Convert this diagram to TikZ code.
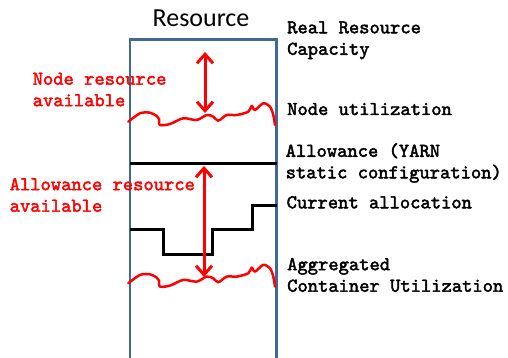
\documentclass[tikz,border=0pt]{standalone}
\usepackage{fontspec}
\usetikzlibrary{arrows.meta}
\newfontfamily\titlefont{Carlito}
\newfontfamily\lblfont{lmmono10-regular.otf}[FakeBold=2.2]
\definecolor{boxblue}{RGB}{65,105,150}

\begin{document}
\begin{tikzpicture}[x=1pt,y=-1pt,
  lbl/.style={anchor=base west, inner sep=0, align=left, font=\lblfont\fontsize{19.6}{21.5}\selectfont},
  redlbl/.style={lbl, text=red},
  wave/.style={red, line width=2.5, line join=round, line cap=round},
  bar/.style={red, line width=3, {Straight Barb[length=9pt,width=16pt]}-{Straight Barb[length=9pt,width=16pt]}}]
\useasboundingbox (0,0) rectangle (508,358);
% the resource column
\draw[boxblue, line width=2.2] (130,358) -- (130,39.5) -- (276.5,39.5) -- (276.5,358);
\node (title) at (201,26.7) [anchor=base, inner sep=0, font=\titlefont\fontsize{26}{30}\selectfont] {Resource};
% utilization curves (node, containers)
\foreach \dy in {0,161.6} {
 \draw[wave, yshift=-\dy pt] plot[smooth, tension=.5] coordinates {(128.3,121.7) (140,113.3) (150,112.7) (156.7,116) (159,119) (160,125) (170,124) (183.3,118.3) (196.7,120) (206.7,115) (213.3,116.7) (218.3,120.7) (226.7,115) (236.7,115) (248.3,111.7) (251.7,106) (255,110) (263.3,103.3) (270,106.7) (273.3,115) (275,125)};
}
% allowance and current allocation
\draw[black, line width=3] (130,164) -- (276.5,164);
\draw[black, line width=3] (130,229) -- (163,229) -- (163,254) -- (212,254) -- (212,229) -- (252,229) -- (252,205) -- (276.5,205);
% available resource
\coordinate (captop) at (205,52);
\coordinate (utilnode) at (205,113);
\coordinate (allowtop) at (204,166);
\coordinate (utilcont) at (204,277);
\draw[bar] (captop) -- (utilnode);
\draw[bar] (allowtop) -- (utilcont);
% labels (base = last line)
\node (realcap) at (287,54.8) [lbl] {Real Resource\\Capacity};
\node (nodeutil) at (287,115) [lbl] {Node utilization};
\node (allowance) at (285.5,178.3) [lbl] {Allowance (YARN\\static configuration)};
\node (curalloc) at (286.5,208.3) [lbl] {Current allocation};
\node (aggrutil) at (287,291.7) [lbl] {Aggregated\\Container Utilization};
\node (nodefree) at (32.5,106.2) [redlbl] {Node resource\\available};
\node (allowfree) at (9.5,211.7) [redlbl] {Allowance resource\\available};
\end{tikzpicture}
\end{document}
